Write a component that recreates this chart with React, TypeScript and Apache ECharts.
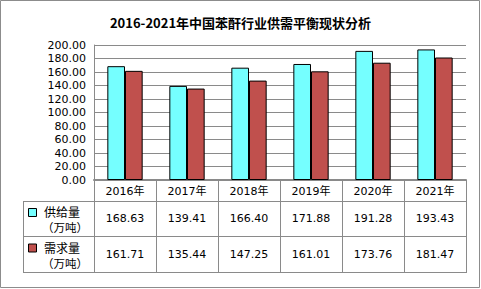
import React, { useEffect, useRef } from "react";
import * as echarts from "echarts";

const chartTitle = "2016-2021年中国苯酐行业供需平衡现状分析";
const years = ["2016年", "2017年", "2018年", "2019年", "2020年", "2021年"];
const seriesNames = ["供给量", "需求量"];
const unitLabel = "（万吨）";
const supply = [168.63, 139.41, 166.4, 171.88, 191.28, 193.43];
const demand = [161.71, 135.44, 147.25, 161.01, 173.76, 181.47];
const yMin = 0;
const yMax = 200;
const yInterval = 20;

const W = 481;
const H = 289;
const gridL = 94;
const gridR = 466;
const gridT = 45;
const gridB = 180;
const headerB = 201;
const row1B = 236.5;
const row2B = 272;
const tableL = 23;
const colors = ["#75FFFF", "#C0504D"];
const lineColor = "#8A8A8A";
const numFont = "DejaVu Sans";
const cjkFont = "Noto Sans CJK SC";

export default function App() {
  const ref = useRef<HTMLDivElement>(null);
  useEffect(() => {
    document.body.style.margin = "0";
    const chart = echarts.init(ref.current!, null, { renderer: "svg" });
    const colW = (gridR - gridL) / years.length;
    const g: any[] = [];
    // outer border
    g.push({
      type: "rect",
      shape: { x: 0.5, y: 0.5, width: W - 2, height: H - 2 },
      style: { fill: "none", stroke: "#8C8C8C", lineWidth: 1 },
    });
    const ln = (x1: number, y1: number, x2: number, y2: number, w = 1) => ({
      type: "line",
      shape: { x1, y1, x2, y2 },
      style: { stroke: lineColor, lineWidth: w },
    });
    // horizontal table lines
    g.push(ln(tableL, headerB + 0.5, gridR, headerB + 0.5));
    g.push(ln(tableL, row1B, gridR, row1B));
    g.push(ln(tableL, row2B + 0.5, gridR, row2B + 0.5));
    // vertical lines
    g.push(ln(tableL + 0.5, headerB, tableL + 0.5, row2B + 1));
    for (let i = 0; i <= years.length; i++) {
      const x = Math.round(gridL + i * colW) + 0.5;
      g.push(ln(x, gridB, x, row2B + 1));
    }
    // header texts and values
    const rows = [supply, demand];
    const rowCenters = [(headerB + row1B) / 2, (row1B + row2B) / 2];
    years.forEach((yr, i) => {
      const cx = gridL + (i + 0.5) * colW;
      g.push({
        type: "text",
        x: cx,
        y: (gridB + headerB) / 2 + 1,
        style: {
          text: yr,
          fontSize: 11,
          fontFamily: numFont + ", " + cjkFont,
          fill: "#000",
          align: "center",
          verticalAlign: "middle",
        },
      });
      rows.forEach((r, k) => {
        g.push({
          type: "text",
          x: cx,
          y: rowCenters[k],
          style: {
            text: r[i].toFixed(2),
            fontSize: 11,
            fontFamily: numFont,
            fill: "#000",
            align: "center",
            verticalAlign: "middle",
          },
        });
      });
    });
    // legend cells
    seriesNames.forEach((name, k) => {
      const top = k === 0 ? headerB : row1B;
      g.push({
        type: "rect",
        shape: { x: 28.5, y: top + 7.5, width: 8, height: 8 },
        style: { fill: colors[k], stroke: "#000", lineWidth: 1 },
      });
      g.push({
        type: "text",
        x: 44,
        y: top + 10.5,
        style: {
          text: name,
          fontSize: 12,
          fontFamily: cjkFont,
          fill: "#000",
          align: "left",
          verticalAlign: "middle",
        },
      });
      g.push({
        type: "text",
        x: 42,
        y: top + 26,
        style: {
          text: unitLabel,
          fontSize: 11.5,
          fontFamily: cjkFont,
          fill: "#000",
          align: "left",
          verticalAlign: "middle",
        },
      });
    });

    chart.setOption({
      animation: false,
      title: {
        text: chartTitle,
        left: "center",
        top: 11,
        textStyle: {
          fontSize: 13,
          fontWeight: "bold",
          fontFamily: cjkFont,
          color: "#000",
        },
      },
      grid: {
        left: gridL,
        right: W - gridR,
        top: gridT,
        bottom: H - gridB,
        containLabel: false,
      },
      xAxis: {
        type: "category",
        data: years,
        axisLine: { show: true, lineStyle: { color: lineColor, width: 2 } },
        axisTick: { show: false },
        axisLabel: { show: false },
      },
      yAxis: {
        type: "value",
        min: yMin,
        max: yMax,
        interval: yInterval,
        axisLine: { show: true, lineStyle: { color: lineColor } },
        axisTick: { show: false },
        axisLabel: {
          formatter: (v: number) => v.toFixed(2),
          fontSize: 11,
          fontFamily: numFont,
          color: "#000",
          margin: 8,
        },
        splitLine: { show: true, lineStyle: { color: lineColor } },
      },
      series: [
        {
          name: seriesNames[0],
          type: "bar",
          data: supply,
          barGap: "0%",
          barCategoryGap: "43%",
          itemStyle: { color: colors[0], borderColor: "#000", borderWidth: 1 },
        },
        {
          name: seriesNames[1],
          type: "bar",
          data: demand,
          barGap: "0%",
          barCategoryGap: "43%",
          itemStyle: { color: colors[1], borderColor: "#000", borderWidth: 1 },
        },
      ],
      graphic: g,
    });
    return () => chart.dispose();
  }, []);
  return (
    <div
      ref={ref}
      style={{ width: W, height: H, position: "absolute", left: 0, top: 0, background: "#fff" }}
    />
  );
}
